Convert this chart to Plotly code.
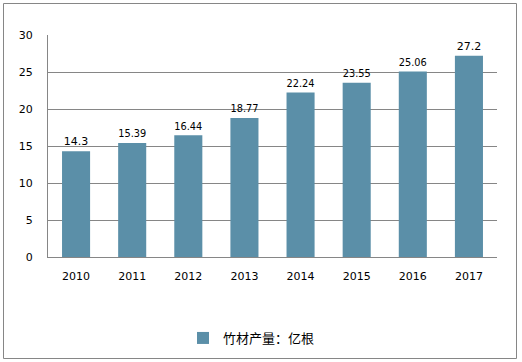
import plotly.graph_objects as go

years = ["2010", "2011", "2012", "2013", "2014", "2015", "2016", "2017"]
values = [14.3, 15.39, 16.44, 18.77, 22.24, 23.55, 25.06, 27.2]
labels = ["14.3", "15.39", "16.44", "18.77", "22.24", "23.55", "25.06", "27.2"]
series_name = "竹材产量：亿根"

W, H = 522, 362
L, R, T, B = 48, 25, 35, 105
pw, ph = W - L - R, H - T - B

def px(x):
    return (x - L) / pw

def py(y):
    return (H - B - y) / ph

fig = go.Figure()
fig.add_trace(go.Bar(
    x=years, y=values, name=series_name,
    marker=dict(color="#5B8FA8", line=dict(width=0)),
    width=0.5,
    text=labels, textposition="outside", cliponaxis=False,
    textfont=dict(color="#000000", size=11, family="DejaVu Sans"),
    showlegend=True,
))

fig.update_layout(
    width=W, height=H,
    margin=dict(l=L, r=R, t=T, b=B, autoexpand=False),
    paper_bgcolor="white", plot_bgcolor="white",
    font=dict(family="DejaVu Sans", size=11, color="#000000"),
    xaxis=dict(showgrid=False, showline=True, linecolor="#868686", linewidth=1,
               ticks="", tickfont=dict(size=11), ticklabelstandoff=9),
    yaxis=dict(range=[0, 30], dtick=5, showgrid=True, gridcolor="#868686", gridwidth=1,
               showline=True, linecolor="#868686", linewidth=1, zeroline=False,
               ticks="", tickfont=dict(size=11), ticklabelstandoff=12),
    legend=dict(orientation="h", x=px(183), y=py(338), xanchor="left", yanchor="middle",
                font=dict(family="Noto Sans CJK SC", size=13, color="#000000"),
                itemwidth=30),
    shapes=[dict(type="rect", xref="paper", yref="paper",
                 x0=px(3.5), x1=px(516.5), y0=py(358.5), y1=py(3.5),
                 line=dict(color="#868686", width=1), fillcolor="rgba(0,0,0,0)", layer="above")],
)

fig.write_html("out.html", config={"displayModeBar": False},
               post_script="document.body.style.margin='0';document.body.style.overflow='hidden';")
